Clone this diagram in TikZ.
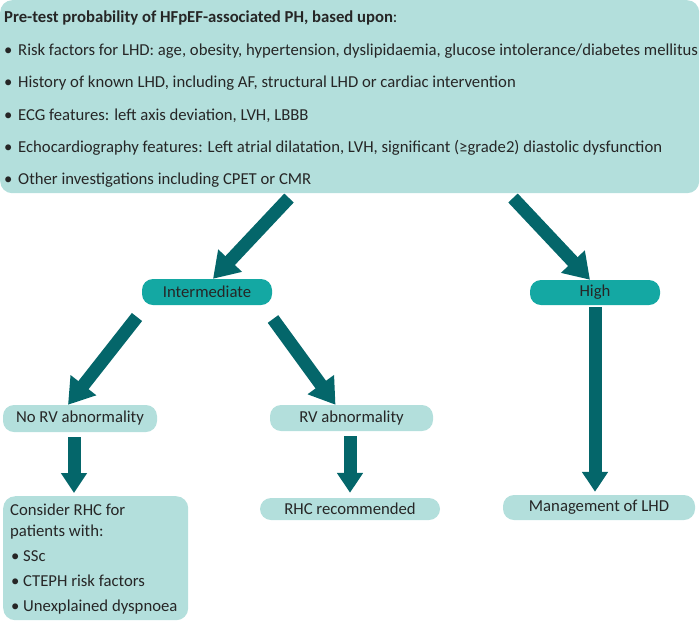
\documentclass[tikz,border=0pt]{standalone}
\usepackage{fontspec}
\setmainfont{Carlito}
\usetikzlibrary{arrows.meta}
\definecolor{lightteal}{HTML}{B3DFDC}
\definecolor{midteal}{HTML}{14A8A3}
\definecolor{darkteal}{HTML}{04666A}
\definecolor{txt}{HTML}{262626}
\begin{document}
\begin{tikzpicture}[x=1pt,y=-1pt,
  font=\fontsize{16.7}{19}\selectfont,
  panel/.style={fill=lightteal, rounded corners=12pt, inner sep=0pt},
  pill/.style={fill=lightteal, rounded corners=11pt, inner sep=0pt, text=txt},
  midpill/.style={pill, fill=midteal},
  line/.style={anchor=base west, inner sep=0pt, text=txt},
  bul/.style={anchor=base west, inner sep=0pt, text=txt},
  diagarrow/.style={draw=darkteal, line width=13pt, -{Triangle[width=31pt,length=25pt]}},
  vertarrow/.style={draw=darkteal, line width=13pt, -{Triangle[width=25pt,length=20pt]}},
]
\useasboundingbox (0,0) rectangle (700,622);

% top panel
\node[panel, anchor=north west, minimum width=699pt, minimum height=193pt] (top) at (0,0) {};
\node[line] (title) at (4,22.5) {\textbf{Pre-test probability of HFpEF-associated PH, based upon}:};
\node[bul] (b1) at (4,55.5) {\textbullet};
\node[line] (t1) at (18,55.5) {Risk factors for LHD: age, obesity, hypertension, dyslipidaemia, glucose intolerance/diabetes mellitus};
\node[bul] (b2) at (4,87.5) {\textbullet};
\node[line] (t2) at (18,87.5) {History of known LHD, including AF, structural LHD or cardiac intervention};
\node[bul] (b3) at (4,120.5) {\textbullet};
\node[line] (t3) at (18,120.5) {ECG features: left axis deviation, LVH, LBBB};
\node[bul] (b4) at (4,152.5) {\textbullet};
\node[line] (t4) at (18,152.5) {Echocardiography features: Left atrial dilatation, LVH, significant (≥grade2) diastolic dysfunction};
\node[bul] (b5) at (4,184.5) {\textbullet};
\node[line] (t5) at (18,184.5) {Other investigations including CPET or CMR};

% level 2
\node[midpill, minimum width=130pt, minimum height=26pt] (inter) at (207,292) {Intermediate};
\node[midpill, minimum width=130pt, minimum height=25pt] (high) at (595,292.5) {High};

% level 3
\node[pill, minimum width=154pt, minimum height=27pt] (norv) at (80,418.5) {No RV abnormality};
\node[pill, minimum width=163pt, minimum height=26pt] (rv) at (351.5,418) {RV abnormality};

% level 4
\node[panel, anchor=north west, minimum width=185pt, minimum height=124pt] (consider) at (3,496) {};
\node[line] (c1) at (10,515.5) {Consider RHC for};
\node[line] (c2) at (10,536.5) {patients with:};
\node[bul] (cb1) at (11,561.5) {\textbullet};
\node[line] (c3) at (23,561.5) {SSc};
\node[bul] (cb2) at (11,586.5) {\textbullet};
\node[line] (c4) at (23,586.5) {CTEPH risk factors};
\node[bul] (cb3) at (11,611.5) {\textbullet};
\node[line] (c5) at (23,611.5) {Unexplained dyspnoea};
\node[pill, minimum width=180pt, minimum height=22pt] (rhc) at (350,509) {RHC recommended};
\node[pill, minimum width=192pt, minimum height=25pt] (mgmt) at (599,507.5) {Management of LHD};

% arrows
\coordinate (a1) at (289,198);
\coordinate (a2) at (513,198);
\coordinate (a3) at (137,317);
\coordinate (a4) at (273,319);
\coordinate (a5) at (74,437);
\coordinate (a6) at (350,436);
\coordinate (a7) at (595,307);
\draw[diagarrow] (a1) -- ([xshift=6pt]inter.north);
\draw[diagarrow] (a2) -- ([xshift=-5pt]high.north);
\draw[diagarrow] (a3) -- ([xshift=-12pt]norv.north);
\draw[diagarrow] (a4) -- ([xshift=-16pt]rv.north);
\draw[vertarrow, shorten >=3pt] (a5) -- (a5 |- consider.north);
\draw[vertarrow, shorten >=5pt] (a6) -- (a6 |- rhc.north);
\draw[vertarrow, shorten >=3pt] (a7) -- (a7 |- mgmt.north);
\end{tikzpicture}
\end{document}
